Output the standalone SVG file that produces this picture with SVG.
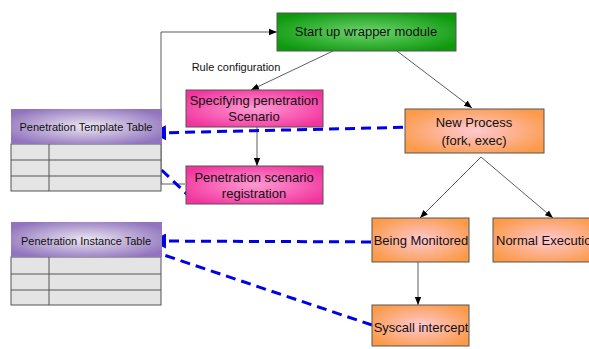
<svg xmlns="http://www.w3.org/2000/svg" width="589" height="349" viewBox="0 0 589 349">
<defs>
<radialGradient id="gGreen" cx="50%" cy="50%" r="60%"><stop offset="0" stop-color="#6fd36f"/><stop offset="1" stop-color="#0d990d"/></radialGradient>
<radialGradient id="gPink" cx="50%" cy="50%" r="60%"><stop offset="0" stop-color="#ff9ad2"/><stop offset="1" stop-color="#f2349e"/></radialGradient>
<radialGradient id="gOrange" cx="50%" cy="50%" r="60%"><stop offset="0" stop-color="#ffc8d2"/><stop offset="1" stop-color="#fb9a48"/></radialGradient>
<radialGradient id="gPurple" cx="50%" cy="50%" r="60%"><stop offset="0" stop-color="#ece6f2"/><stop offset="1" stop-color="#9174bd"/></radialGradient>
<marker id="ah" viewBox="0 0 10 10" refX="10" refY="5" markerWidth="8" markerHeight="8" markerUnits="userSpaceOnUse" orient="auto"><path d="M0,1 L10,5 L0,9 z" fill="#000"/></marker>
<marker id="ahb" viewBox="0 0 10 10" refX="8" refY="5" markerWidth="5" markerHeight="5" orient="auto"><path d="M0,0 L10,5 L0,10 z" fill="#0000e6"/></marker>
</defs>
<style>
text{font-family:"Liberation Sans",Arial,sans-serif;fill:#111;text-anchor:middle}
.n{font-size:13px}
.h{font-size:11px}
.box{stroke:#555;stroke-width:1}
.grid{fill:#e4e4e4;stroke:#555;stroke-width:1}
.ln{stroke:#333;stroke-width:0.8;fill:none}
.dash{stroke:#0000e6;stroke-width:3;stroke-dasharray:10,6;fill:none}
</style>
<g id="connectors">
<path class="ln" d="M185,184 H161 V32 H277" marker-end="url(#ah)"/>
<path class="ln" d="M333,51 L251,90" marker-end="url(#ah)"/>
<path class="ln" d="M257,127 V166" marker-end="url(#ah)"/>
<path class="ln" d="M397,51 L472,108" marker-end="url(#ah)"/>
<path class="ln" d="M481,157 L420,218" marker-end="url(#ah)"/>
<path class="ln" d="M481,157 L553,218" marker-end="url(#ah)"/>
<path class="ln" d="M418,262 V305" marker-end="url(#ah)"/>
<path class="dash" d="M419,127 L154,133" marker-end="url(#ahb)"/>
<path class="dash" d="M192,199 L127,137" marker-end="url(#ahb)"/>
<path class="dash" d="M387,242 L154,241" marker-end="url(#ahb)"/>
<path class="dash" d="M372,325 L146,249" marker-end="url(#ahb)"/>
<text x="236" y="71" style="font-size:11px">Rule configuration</text>
</g>
<g id="template-table">
<rect class="grid" x="11" y="144" width="150" height="47"/>
<path d="M11,160 H161 M11,176 H161 M49,144 V191" stroke="#555" stroke-width="1"/>
<rect x="11" y="109" width="151" height="35" fill="url(#gPurple)"/>
<text class="h" x="86" y="131">Penetration Template Table</text>
</g>
<g id="instance-table">
<rect class="grid" x="11" y="257" width="150" height="48"/>
<path d="M11,274 H161 M11,290 H161 M49,257 V305" stroke="#555" stroke-width="1"/>
<rect x="11" y="222" width="151" height="35" fill="url(#gPurple)"/>
<text class="h" x="86" y="245">Penetration Instance Table</text>
</g>
<g id="start">
<rect class="box" x="277" y="13" width="179" height="38" fill="url(#gGreen)"/>
<text class="n" x="366" y="36">Start up wrapper module</text>
</g>
<g id="specifying">
<rect class="box" x="186" y="90" width="137" height="37" fill="url(#gPink)"/>
<text class="n" x="254" y="105">Specifying penetration</text>
<text class="n" x="254" y="121">Scenario</text>
</g>
<g id="registration">
<rect class="box" x="186" y="166" width="137" height="38" fill="url(#gPink)"/>
<text class="n" x="254" y="182">Penetration scenario</text>
<text class="n" x="254" y="198">registration</text>
</g>
<g id="new-process">
<rect class="box" x="405" y="109" width="139" height="44" fill="url(#gOrange)"/>
<text class="n" x="474" y="127">New Process</text>
<text class="n" x="474" y="145">(fork, exec)</text>
</g>
<g id="monitored">
<rect class="box" x="372" y="218" width="97" height="44" fill="url(#gOrange)"/>
<text class="n" x="421" y="245">Being Monitored</text>
</g>
<g id="normal">
<rect class="box" x="493" y="218" width="110" height="44" fill="url(#gOrange)"/>
<text class="n" x="496" y="245" style="text-anchor:start">Normal Execution</text>
</g>
<g id="syscall">
<rect class="box" x="372" y="305" width="97" height="41" fill="url(#gOrange)"/>
<text class="n" x="421" y="332">Syscall intercept</text>
</g>
</svg>
